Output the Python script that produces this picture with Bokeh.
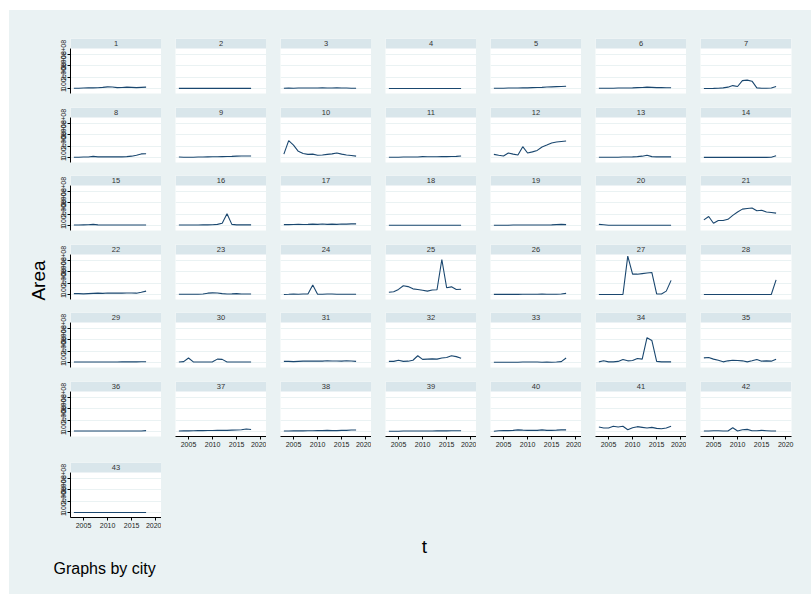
import math
from bokeh.plotting import figure
from bokeh.models import (Range1d, LinearAxis, FixedTicker, BoxAnnotation, Label,
                          ColumnDataSource, Grid, Spacer)
from bokeh.layouts import row, column
from bokeh.embed import file_html
from bokeh.resources import INLINE

# ---------------- data (Area, in units of 1e8) ----------------
years = list(range(2003, 2019))

city_1 = [0.02, 0.03, 0.05, 0.06, 0.06, 0.07, 0.10, 0.15, 0.13, 0.08, 0.09, 0.12, 0.10, 0.08, 0.10, 0.12]
city_2 = [0.01] * 16
city_3 = [0.03, 0.05, 0.03, 0.04, 0.05, 0.05, 0.04, 0.05, 0.06, 0.05, 0.04, 0.06, 0.05, 0.04, 0.03, 0.03]
city_4 = [0.005] * 16
city_5 = [0.02, 0.03, 0.03, 0.04, 0.05, 0.05, 0.06, 0.06, 0.08, 0.09, 0.10, 0.13, 0.15, 0.17, 0.18, 0.20]
city_6 = [0.02, 0.02, 0.03, 0.03, 0.04, 0.05, 0.05, 0.06, 0.08, 0.09, 0.12, 0.10, 0.08, 0.08, 0.07, 0.07]
city_7 = [0.00, 0.00, 0.01, 0.03, 0.06, 0.12, 0.26, 0.18, 0.70, 0.74, 0.65, 0.06, 0.03, 0.03, 0.04, 0.18]
city_8 = [0.03, 0.03, 0.05, 0.04, 0.10, 0.06, 0.06, 0.07, 0.06, 0.06, 0.06, 0.08, 0.12, 0.20, 0.32, 0.33]
city_9 = [0.04, 0.03, 0.02, 0.03, 0.04, 0.05, 0.06, 0.07, 0.07, 0.08, 0.09, 0.10, 0.12, 0.13, 0.14, 0.14]
city_10 = [0.30, 1.50, 1.10, 0.55, 0.35, 0.28, 0.30, 0.20, 0.22, 0.28, 0.32, 0.40, 0.30, 0.22, 0.18, 0.12]
city_11 = [0.03, 0.03, 0.03, 0.04, 0.04, 0.04, 0.05, 0.08, 0.07, 0.07, 0.07, 0.08, 0.08, 0.09, 0.10, 0.13]
city_12 = [0.28, 0.20, 0.13, 0.40, 0.30, 0.22, 0.96, 0.40, 0.50, 0.63, 0.93, 1.10, 1.28, 1.37, 1.42, 1.46]
city_13 = [0.02, 0.02, 0.02, 0.03, 0.03, 0.04, 0.05, 0.06, 0.08, 0.12, 0.20, 0.08, 0.06, 0.06, 0.06, 0.06]
city_14 = [0.01] * 14 + [0.03, 0.15]
city_15 = [0.05, 0.05, 0.06, 0.07, 0.10, 0.06, 0.05, 0.05, 0.05, 0.05, 0.05, 0.05, 0.05, 0.05, 0.05, 0.05]
city_16 = [0.05, 0.05, 0.05, 0.05, 0.05, 0.06, 0.06, 0.07, 0.10, 0.20, 1.05, 0.10, 0.06, 0.06, 0.06, 0.06]
city_17 = [0.08, 0.08, 0.09, 0.10, 0.09, 0.10, 0.12, 0.10, 0.14, 0.10, 0.12, 0.10, 0.14, 0.12, 0.15, 0.15]
city_18 = [0.02] * 16
city_19 = [0.03, 0.03, 0.03, 0.03, 0.04, 0.04, 0.04, 0.04, 0.05, 0.05, 0.05, 0.05, 0.06, 0.08, 0.10, 0.08]
city_20 = [0.10, 0.07, 0.03, 0.03, 0.03, 0.03, 0.03, 0.03, 0.03, 0.03, 0.03, 0.03, 0.03, 0.03, 0.03, 0.03]
city_21 = [0.50, 0.80, 0.20, 0.45, 0.45, 0.55, 0.90, 1.20, 1.45, 1.50, 1.55, 1.30, 1.35, 1.20, 1.15, 1.10]
city_22 = [0.08, 0.08, 0.06, 0.08, 0.10, 0.12, 0.10, 0.14, 0.12, 0.14, 0.12, 0.14, 0.14, 0.12, 0.20, 0.30]
city_23 = [0.02, 0.02, 0.02, 0.02, 0.03, 0.05, 0.12, 0.15, 0.14, 0.08, 0.05, 0.06, 0.08, 0.05, 0.05, 0.05]
city_24 = [0.00, 0.02, 0.05, 0.03, 0.05, 0.05, 0.85, 0.03, 0.03, 0.05, 0.05, 0.03, 0.02, 0.02, 0.02, 0.02]
city_25 = [0.20, 0.25, 0.45, 0.78, 0.70, 0.50, 0.45, 0.38, 0.30, 0.40, 0.42, 3.10, 0.60, 0.68, 0.45, 0.47]
city_26 = [0.01, 0.01, 0.01, 0.01, 0.01, 0.01, 0.02, 0.02, 0.02, 0.03, 0.05, 0.03, 0.02, 0.02, 0.04, 0.10]
city_27 = [0.00, 0.00, 0.00, 0.00, 0.00, 0.00, 3.40, 1.80, 1.80, 1.85, 1.90, 1.95, 0.05, 0.05, 0.30, 1.25]
city_28 = [0.00] * 15 + [1.30]
city_29 = [0.05, 0.05, 0.04, 0.04, 0.04, 0.05, 0.05, 0.05, 0.05, 0.05, 0.06, 0.06, 0.06, 0.06, 0.07, 0.07]
city_30 = [0.05, 0.08, 0.40, 0.06, 0.05, 0.05, 0.05, 0.06, 0.30, 0.28, 0.05, 0.05, 0.05, 0.05, 0.05, 0.05]
city_31 = [0.10, 0.10, 0.08, 0.10, 0.12, 0.14, 0.12, 0.14, 0.12, 0.16, 0.14, 0.14, 0.12, 0.16, 0.14, 0.10]
city_32 = [0.10, 0.10, 0.20, 0.10, 0.12, 0.20, 0.60, 0.28, 0.30, 0.32, 0.30, 0.40, 0.45, 0.60, 0.52, 0.38]
city_33 = [0.03, 0.03, 0.03, 0.03, 0.03, 0.03, 0.04, 0.05, 0.05, 0.05, 0.03, 0.04, 0.03, 0.05, 0.08, 0.40]
city_34 = [0.06, 0.15, 0.06, 0.06, 0.10, 0.27, 0.15, 0.18, 0.35, 0.30, 2.20, 1.95, 0.10, 0.06, 0.06, 0.06]
city_35 = [0.41, 0.44, 0.30, 0.20, 0.06, 0.15, 0.20, 0.18, 0.15, 0.06, 0.15, 0.27, 0.12, 0.15, 0.12, 0.30]
city_36 = [0.05] * 15 + [0.08]
city_37 = [0.05, 0.06, 0.06, 0.07, 0.08, 0.08, 0.09, 0.09, 0.10, 0.10, 0.10, 0.12, 0.14, 0.16, 0.22, 0.18]
city_38 = [0.05, 0.05, 0.06, 0.06, 0.06, 0.07, 0.07, 0.08, 0.08, 0.10, 0.08, 0.08, 0.10, 0.10, 0.14, 0.14]
city_39 = [0.03, 0.03, 0.03, 0.04, 0.04, 0.04, 0.05, 0.05, 0.05, 0.05, 0.06, 0.06, 0.06, 0.07, 0.07, 0.07]
city_40 = [0.02, 0.07, 0.08, 0.08, 0.10, 0.15, 0.12, 0.10, 0.10, 0.10, 0.15, 0.10, 0.10, 0.12, 0.15, 0.15]
city_41 = [0.40, 0.31, 0.31, 0.46, 0.40, 0.46, 0.16, 0.34, 0.43, 0.37, 0.31, 0.37, 0.28, 0.25, 0.31, 0.46]
city_42 = [0.04, 0.04, 0.07, 0.07, 0.04, 0.04, 0.34, 0.04, 0.16, 0.19, 0.07, 0.07, 0.10, 0.07, 0.04, 0.04]
city_43 = [0.00] * 16

cities = [city_1, city_2, city_3, city_4, city_5, city_6, city_7, city_8, city_9, city_10,
          city_11, city_12, city_13, city_14, city_15, city_16, city_17, city_18, city_19, city_20,
          city_21, city_22, city_23, city_24, city_25, city_26, city_27, city_28, city_29, city_30,
          city_31, city_32, city_33, city_34, city_35, city_36, city_37, city_38, city_39, city_40,
          city_41, city_42, city_43]
city_labels = [str(i) for i in range(1, 44)]

UNIT = 100000000
ytick_values = [0, 100000000, 200000000, 300000000]
ytick_labels = ["0", "1.00e+08", "2.00e+08", "3.00e+08"]
xtick_values = [2005, 2010, 2015, 2020]

# ---------------- style / layout ----------------
BG = "#EAF2F3"
STRIP = "#D9E6EB"
LINE = "#1A476F"
FONT = "Liberation Sans"

X0, X1 = 2002.3, 2021.2
Y0, Y1 = -0.44 * UNIT, 3.54 * UNIT
YS = Y1 + (Y1 - Y0) * 10.0 / 45.0   # top of the strip band

NCOL = 7
col_w = [113, 105, 105, 105, 105, 105, 125]
col_left = [22, 14, 14, 14, 14, 14, 14]
col_right = [0, 0, 0, 0, 0, 0, 20]
row_top = [28, 0, 0, 0, 0, 0, 0]
row_bot = [14, 13, 14, 13, 14, 26, 14]
FRAME_H = 55
PAGE_W, PAGE_H = 811, 594
MARGIN_L, MARGIN_T = 9, 10


def blank(width, height):
    p = figure(width=width, height=height, x_range=Range1d(0, width), y_range=Range1d(0, height),
               x_axis_location=None, y_axis_location=None, toolbar_location=None,
               output_backend="svg", min_border=0)
    p.center = []
    p.outline_line_color = None
    p.background_fill_color = BG
    p.border_fill_color = BG
    return p


def panel(idx, r, c, show_y, show_x):
    w = col_w[c]
    h = row_top[r] + FRAME_H + row_bot[r]
    p = figure(width=w, height=h, x_range=Range1d(X0, X1), y_range=Range1d(Y0, YS),
               x_axis_location=None, y_axis_location=None, toolbar_location=None,
               output_backend="svg",
               min_border_left=col_left[c], min_border_right=col_right[c],
               min_border_top=row_top[r], min_border_bottom=row_bot[r])
    p.center = []
    p.add_layout(Grid(dimension=1, ticker=FixedTicker(ticks=ytick_values),
                      grid_line_color=BG, grid_line_width=1))
    p.outline_line_color = None
    p.background_fill_color = "white"
    p.border_fill_color = BG

    src = ColumnDataSource(dict(year=years, area=[v * UNIT for v in cities[idx]]))
    p.line(x="year", y="area", source=src, line_color=LINE, line_width=1.1)

    p.add_layout(BoxAnnotation(left=X0, right=X1, bottom=Y1, top=YS,
                               fill_color=STRIP, fill_alpha=1.0, line_alpha=0))
    p.add_layout(Label(x=(X0 + X1) / 2, y=(Y1 + YS) / 2, text=city_labels[idx],
                       text_align="center", text_baseline="middle",
                       text_font=FONT, text_font_size="7.5px", text_color="#333333"))

    if show_y:
        ax = LinearAxis(ticker=FixedTicker(ticks=ytick_values),
                        major_label_overrides=dict(zip(ytick_values, ytick_labels)),
                        bounds=(Y0, Y1))
        ax.major_label_orientation = "vertical"
        ax.major_tick_out = 3
        ax.major_tick_in = 0
        ax.minor_tick_out = 0
        ax.minor_tick_in = 0
        ax.major_label_standoff = 1
        ax.axis_line_color = "black"
        ax.major_tick_line_color = "black"
        ax.major_label_text_font = FONT
        ax.major_label_text_font_size = "7px"
        ax.major_label_text_color = "#222222"
        p.add_layout(ax, "left")
    if show_x:
        ax = LinearAxis(ticker=FixedTicker(ticks=xtick_values))
        ax.major_tick_out = 3
        ax.major_tick_in = 0
        ax.minor_tick_out = 0
        ax.minor_tick_in = 0
        ax.major_label_standoff = 2
        ax.axis_line_color = "black"
        ax.major_tick_line_color = "black"
        ax.major_label_text_font = FONT
        ax.major_label_text_font_size = "7px"
        ax.major_label_text_color = "#222222"
        p.add_layout(ax, "below")
    return p


bg_style = {"background-color": BG}

n = len(cities)
nrows = math.ceil(n / NCOL)
rows = []
for r in range(nrows):
    figs = []
    for c in range(NCOL):
        idx = r * NCOL + c
        if idx >= n:
            break
        show_y = (c == 0)
        show_x = (idx + NCOL >= n)
        figs.append(panel(idx, r, c, show_y, show_x))
    used = sum(col_w[:len(figs)])
    total = sum(col_w)
    if used < total:
        h = row_top[r] + FRAME_H + row_bot[r]
        figs.append(blank(total - used, h))
    rows.append(row(*figs, spacing=0, styles=bg_style))
grid_col = column(*rows, spacing=0, styles=bg_style)

grid_h = sum(row_top[r] + FRAME_H + row_bot[r] for r in range(nrows))
LEFT_W = 70 - 22 - MARGIN_L
left = blank(LEFT_W, grid_h)
left.add_layout(Label(x=38 - MARGIN_L, y=grid_h - (280 - MARGIN_T), text="Area", angle=math.pi / 2,
                      text_align="center", text_baseline="middle",
                      text_font=FONT, text_font_size="19px", text_color="black"))

inner_w = LEFT_W + sum(col_w)
BOTTOM_H = PAGE_H - MARGIN_T - grid_h
bottom = blank(inner_w, BOTTOM_H)
bottom.add_layout(Label(x=424 - MARGIN_L, y=BOTTOM_H - (546 - MARGIN_T - grid_h), text="t",
                        text_align="center", text_baseline="middle",
                        text_font=FONT, text_font_size="19px", text_color="black"))
bottom.add_layout(Label(x=53 - MARGIN_L, y=BOTTOM_H - (568 - MARGIN_T - grid_h), text="Graphs by city",
                        text_align="left", text_baseline="middle",
                        text_font=FONT, text_font_size="16px", text_color="black"))

inner = column(row(left, grid_col, spacing=0, styles=bg_style), bottom, spacing=0, styles=bg_style)
layout = column(Spacer(width=PAGE_W, height=MARGIN_T),
                row(Spacer(width=MARGIN_L, height=PAGE_H - MARGIN_T), inner, spacing=0),
                spacing=0)

open("out.html", "w").write(file_html(layout, INLINE, "Area by city"))
